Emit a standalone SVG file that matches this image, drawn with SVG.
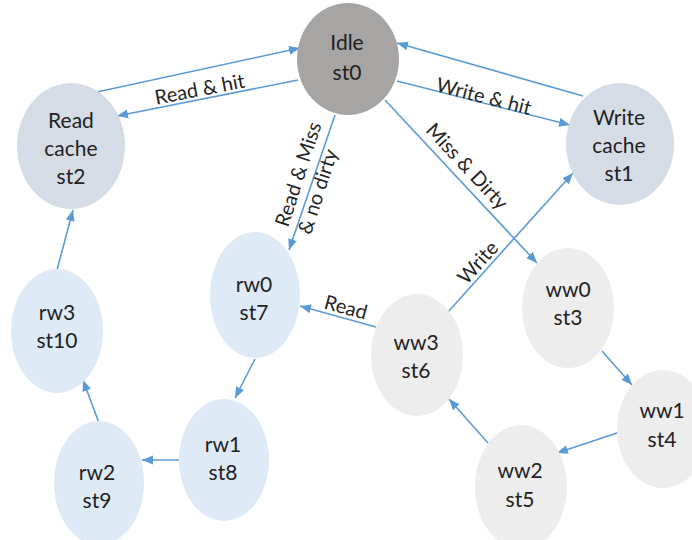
<svg xmlns="http://www.w3.org/2000/svg" width="692" height="540" viewBox="0 0 692 540">
<defs>
<marker id="ah" markerUnits="userSpaceOnUse" markerWidth="12" markerHeight="10" refX="11" refY="5" orient="auto">
<path d="M0,0.5 L11,5 L0,9.5 Z" fill="#5B9BD5"/>
</marker>
<style>
.n text{font-family:Lato,"Liberation Sans",sans-serif;font-size:21px;fill:#222;text-anchor:middle}
.idle{fill:#A7A4A4}
.cache{fill:#D6DCE5}
.rw{fill:#DEEBF7}
.ww{fill:#EDEDED}
.e path{stroke:#5B9BD5;stroke-width:1.6;fill:none;marker-end:url(#ah)}
.e text{font-family:Lato,"Liberation Sans",sans-serif;font-size:20px;fill:#262626}
</style>
</defs>
<rect width="692" height="540" fill="#fff"/>
<g id="connectors" class="e">
<path d="M97,92 L300,48"/>
<path d="M298,80 L117,116"/>
<path d="M583,96 L397,43"/>
<path d="M397,81 L570,125"/>
<path d="M335,115 L289,250"/>
<path d="M385,100 L537,263"/>
<path d="M448,312 L573,173"/>
<path d="M376,327 L300,306"/>
<path d="M255,359 L235,398"/>
<path d="M179,460 L142,460"/>
<path d="M99,423 L83,380"/>
<path d="M57,270 L73,210"/>
<path d="M602,351 L632,385"/>
<path d="M620,432 L557,453"/>
<path d="M488,443 L449,399"/>
<text transform="translate(201,96) rotate(-11)" text-anchor="middle">Read &amp; hit</text>
<text transform="translate(482,103) rotate(14.3)" text-anchor="middle">Write &amp; hit</text>
<text transform="translate(462,171) rotate(47)" text-anchor="middle">Miss &amp; Dirty</text>
<text transform="translate(483,267) rotate(-48)" text-anchor="middle">Write</text>
<text transform="translate(344,314) rotate(15)" text-anchor="middle">Read</text>
<text transform="translate(288,228) rotate(-72)"><tspan x="0" y="0">Read &amp; Miss</tspan><tspan x="0" y="24">&amp; no dirty</tspan></text>
</g>
<g id="st0" class="n"><ellipse class="idle" cx="348" cy="59" rx="51" ry="56"/><text x="347" y="50">Idle</text><text x="347" y="80">st0</text></g>
<g id="st2" class="n"><ellipse class="cache" cx="71" cy="146" rx="54" ry="63"/><text x="71" y="128">Read</text><text x="71" y="156">cache</text><text x="71" y="184">st2</text></g>
<g id="st1" class="n"><ellipse class="cache" cx="620" cy="144" rx="54" ry="61"/><text x="619" y="125">Write</text><text x="619" y="153">cache</text><text x="619" y="181">st1</text></g>
<g id="st10" class="n"><ellipse class="rw" cx="57" cy="331" rx="46" ry="62"/><text x="57" y="320">rw3</text><text x="57" y="348">st10</text></g>
<g id="st7" class="n"><ellipse class="rw" cx="255" cy="295" rx="45" ry="63"/><text x="254" y="292">rw0</text><text x="254" y="320">st7</text></g>
<g id="st8" class="n"><ellipse class="rw" cx="224" cy="460" rx="45" ry="61"/><text x="223" y="452">rw1</text><text x="223" y="480">st8</text></g>
<g id="st9" class="n"><ellipse class="rw" cx="99" cy="483" rx="45" ry="62"/><text x="97" y="480">rw2</text><text x="97" y="508">st9</text></g>
<g id="st6" class="n"><ellipse class="ww" cx="417" cy="355" rx="46" ry="61"/><text x="416" y="350">ww3</text><text x="416" y="378">st6</text></g>
<g id="st3" class="n"><ellipse class="ww" cx="568" cy="308" rx="46" ry="60"/><text x="568" y="297">ww0</text><text x="568" y="325">st3</text></g>
<g id="st4" class="n"><ellipse class="ww" cx="663" cy="429" rx="46" ry="59"/><text x="662" y="418">ww1</text><text x="662" y="447">st4</text></g>
<g id="st5" class="n"><ellipse class="ww" cx="521" cy="487" rx="46" ry="62"/><text x="520" y="478">ww2</text><text x="520" y="507">st5</text></g>
</svg>
